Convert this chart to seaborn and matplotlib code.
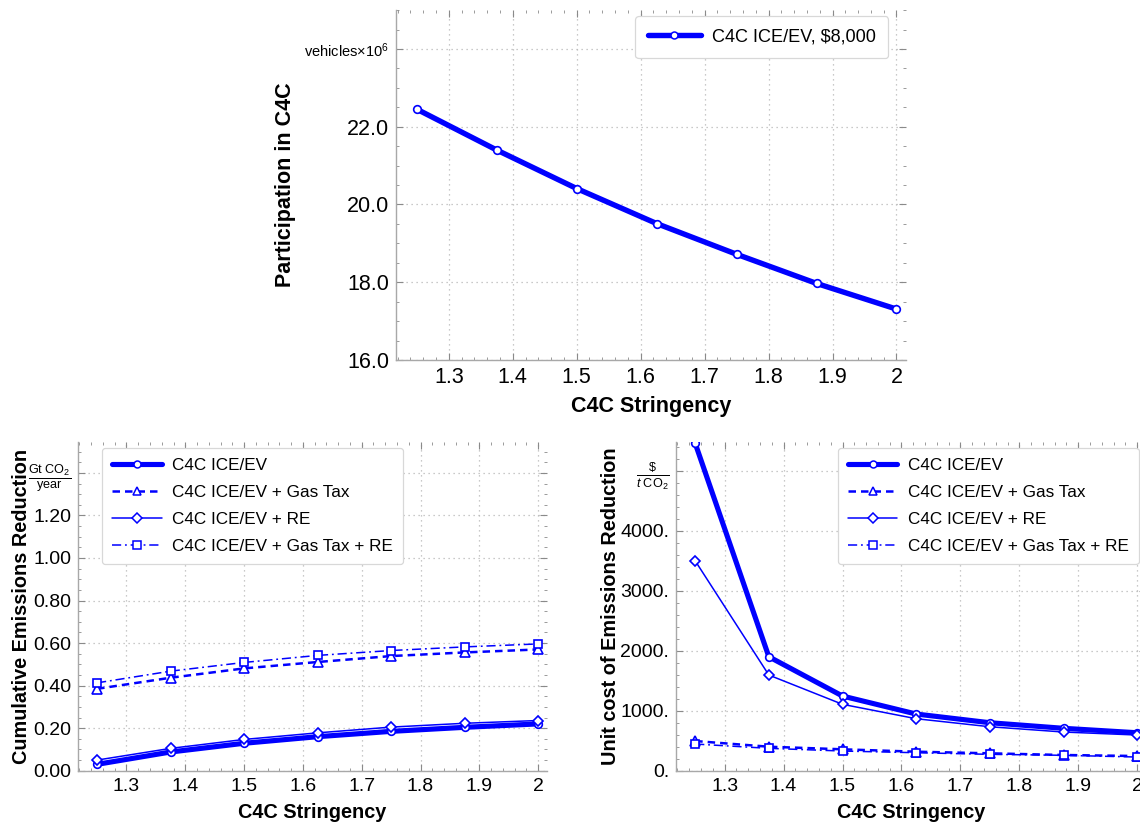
import matplotlib
matplotlib.use("Agg")
import matplotlib.pyplot as plt
import seaborn as sns
import pandas as pd
from matplotlib.ticker import MultipleLocator
from matplotlib.lines import Line2D

# ---- data -------------------------------------------------------------
stringency = [1.25, 1.375, 1.5, 1.625, 1.75, 1.875, 2.0]

participation = [22.45, 21.40, 20.41, 19.51, 18.72, 17.97, 17.31]

reduction_ice_ev = [0.030, 0.088, 0.129, 0.160, 0.185, 0.204, 0.220]
reduction_gas_tax = [0.385, 0.437, 0.481, 0.511, 0.539, 0.556, 0.570]
reduction_re = [0.050, 0.105, 0.147, 0.178, 0.205, 0.223, 0.236]
reduction_gas_tax_re = [0.413, 0.468, 0.509, 0.542, 0.565, 0.582, 0.596]

cost_ice_ev = [5460, 1900, 1245, 945, 800, 707, 633]
cost_gas_tax = [495, 400, 357, 317, 290, 262, 245]
cost_re = [3500, 1595, 1107, 867, 733, 645, 595]
cost_gas_tax_re = [445, 373, 328, 300, 273, 257, 228]

series_labels = ["C4C ICE/EV", "C4C ICE/EV + Gas Tax",
                 "C4C ICE/EV + RE", "C4C ICE/EV + Gas Tax + RE"]
top_label = "C4C ICE/EV, $8,000"

x_ticks = [1.3, 1.4, 1.5, 1.6, 1.7, 1.8, 1.9, 2.0]
x_tick_labels = ["1.3", "1.4", "1.5", "1.6", "1.7", "1.8", "1.9", "2"]

top_yticks = [16, 18, 20, 22, 24]
top_ylabels = ["16.0", "18.0", "20.0", "22.0", "vehicles\u00d710$^{6}$"]
left_yticks = [0.0, 0.2, 0.4, 0.6, 0.8, 1.0, 1.2, 1.4]
left_ylabels = ["0.00", "0.20", "0.40", "0.60", "0.80", "1.00", "1.20",
                r"$\frac{\mathrm{Gt\ CO}_{2}}{\mathrm{year}}$"]
right_yticks = [0, 1000, 2000, 3000, 4000, 5000]
right_ylabels = ["0.", "1000.", "2000.", "3000.", "4000.",
                 r"$\frac{\$}{t\ \mathrm{CO}_{2}}$"]

# ---- style ------------------------------------------------------------
sns.set_theme(style="ticks")
plt.rcParams["font.family"] = ["Liberation Sans", "DejaVu Sans"]
plt.rcParams["mathtext.fontset"] = "custom"
plt.rcParams["mathtext.rm"] = "Liberation Sans"
plt.rcParams["mathtext.it"] = "Liberation Sans:italic"
plt.rcParams["mathtext.bf"] = "Liberation Sans:bold"
plt.rcParams["text.color"] = "black"
plt.rcParams["axes.labelcolor"] = "black"

BLUE = "#0000ff"
GRID = "#b8b8b8"
SPINE = "#a8a8a8"

styles = [
    dict(lw=3.7, ls="-", marker="o", ms=5.5),
    dict(lw=1.8, ls=(0, (3, 2)), marker="^", ms=6.5),
    dict(lw=1.1, ls="-", marker="D", ms=5.2),
    dict(lw=1.1, ls=(0, (6, 2.5, 1.2, 2.5)), marker="s", ms=6),
]
top_style = dict(lw=3.9, ls="-", marker="o", ms=5.5)


def draw_series(ax, y, st):
    df = pd.DataFrame({"x": stringency, "y": y})
    sns.lineplot(data=df, x="x", y="y", ax=ax, color=BLUE, lw=st["lw"],
                 linestyle=st["ls"], marker=st["marker"], markersize=st["ms"],
                 markerfacecolor="white", markeredgecolor=BLUE,
                 markeredgewidth=1.2, errorbar=None, legend=False)


def legend_handle(st):
    return Line2D([], [], color=BLUE, lw=st["lw"], ls=st["ls"],
                  marker=st["marker"], markersize=st["ms"] - 0.5,
                  markerfacecolor="white", markeredgecolor=BLUE,
                  markeredgewidth=1.1)


def style_axes(ax, yminor, tick_fs):
    ax.set_xlim(1.2175, 2.015)
    ax.set_xticks(x_ticks, x_tick_labels)
    ax.xaxis.set_minor_locator(MultipleLocator(0.02))
    ax.yaxis.set_minor_locator(MultipleLocator(yminor))
    ax.grid(True, which="major", color=GRID, ls=(0, (1, 3)), lw=0.9)
    for side in ("top", "right"):
        ax.spines[side].set_visible(False)
    for side in ("left", "bottom"):
        ax.spines[side].set_color(SPINE)
        ax.spines[side].set_linewidth(1.0)
    ax.tick_params(which="both", direction="in", top=True, right=True,
                   color="#8a8a8a", labelsize=tick_fs, labelcolor="black")
    ax.tick_params(which="major", length=5, width=0.8, pad=5)
    ax.tick_params(which="minor", length=2.5, width=0.6)
    ax.set_axisbelow(True)


def style_legend(leg):
    frame = leg.get_frame()
    frame.set_edgecolor("#d8d8d8")
    frame.set_linewidth(0.9)
    frame.set_facecolor("white")
    frame.set_alpha(1.0)


fig = plt.figure(figsize=(11.4, 8.25), dpi=100)

# ---- participation panel ---------------------------------------------
ax_top = fig.add_axes([0.3474, 0.5636, 0.4474, 0.4242])
draw_series(ax_top, participation, top_style)
ax_top.set_ylim(16, 25)
style_axes(ax_top, 0.5, 15.5)
ax_top.set_yticks(top_yticks, top_ylabels)
ax_top.get_yticklabels()[-1].set_fontsize(10.5)
ax_top.set_xlabel("C4C Stringency", fontsize=15.5, fontweight="bold")
ax_top.set_ylabel("Participation in C4C", fontsize=15.5, fontweight="bold")
ax_top.xaxis.set_label_coords(0.5, -0.103)
ax_top.yaxis.set_label_coords(-0.196, 0.5)
leg = ax_top.legend([legend_handle(top_style)], [top_label],
                    loc="upper right", bbox_to_anchor=(0.965, 0.983),
                    borderaxespad=0, fontsize=13.1, handlelength=2.9,
                    handletextpad=0.6, borderpad=0.7, fancybox=True,
                    framealpha=1)
style_legend(leg)

# ---- cumulative reduction panel --------------------------------------
ax_left = fig.add_axes([0.0684, 0.0658, 0.4114, 0.3984])
for y, st in zip([reduction_ice_ev, reduction_gas_tax, reduction_re,
                  reduction_gas_tax_re], styles):
    draw_series(ax_left, y, st)
ax_left.set_ylim(0, 1.545)
style_axes(ax_left, 0.05, 14)
ax_left.set_yticks(left_yticks, left_ylabels)
ax_left.get_yticklabels()[-1].set_fontsize(13)
ax_left.set_xlabel("C4C Stringency", fontsize=14.3, fontweight="bold")
ax_left.set_ylabel("Cumulative Emissions Reduction", fontsize=14.3,
                   fontweight="bold")
ax_left.xaxis.set_label_coords(0.5, -0.097)
ax_left.yaxis.set_label_coords(-0.100, 0.5)
leg = ax_left.legend([legend_handle(s) for s in styles], series_labels,
                     loc="upper left", bbox_to_anchor=(0.051, 0.982),
                     borderaxespad=0, fontsize=12.3, handlelength=2.9,
                     handletextpad=0.6, labelspacing=0.7, borderpad=0.6,
                     fancybox=True, framealpha=1)
style_legend(leg)

# ---- unit cost panel (runs past the right edge of the figure) --------
ax_right = fig.add_axes([0.593, 0.0658, 0.4123, 0.3984])
for y, st in zip([cost_ice_ev, cost_gas_tax, cost_re, cost_gas_tax_re],
                 styles):
    draw_series(ax_right, y, st)
ax_right.set_ylim(0, 5480)
style_axes(ax_right, 200, 14)
ax_right.set_yticks(right_yticks, right_ylabels)
ax_right.get_yticklabels()[-1].set_fontsize(13)
ax_right.set_xlabel("C4C Stringency", fontsize=14.3, fontweight="bold")
ax_right.set_ylabel("Unit cost of Emissions Reduction", fontsize=14.3,
                    fontweight="bold")
ax_right.xaxis.set_label_coords(0.5, -0.097)
ax_right.yaxis.set_label_coords(-0.120, 0.5)
leg = ax_right.legend([legend_handle(s) for s in styles], series_labels,
                      loc="upper left", bbox_to_anchor=(0.344, 0.982),
                      borderaxespad=0, fontsize=12.3, handlelength=2.9,
                      handletextpad=0.6, labelspacing=0.7, borderpad=0.6,
                      fancybox=True, framealpha=1)
style_legend(leg)

fig.savefig("out.png", dpi=100)
